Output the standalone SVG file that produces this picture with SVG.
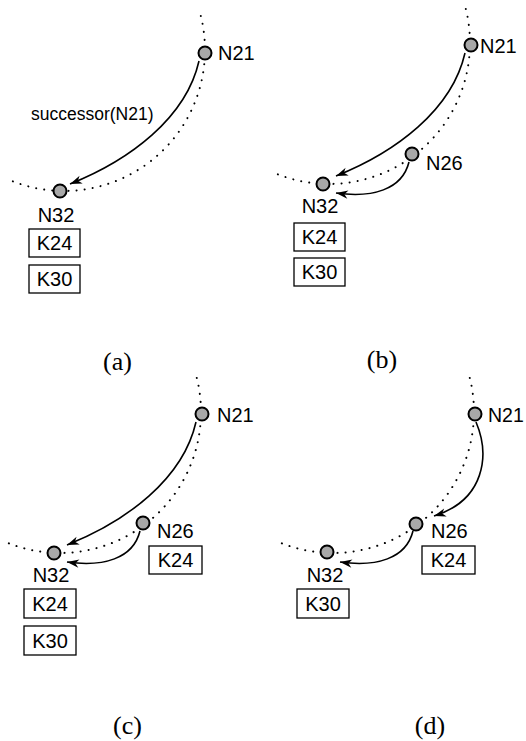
<svg xmlns="http://www.w3.org/2000/svg" xmlns:xlink="http://www.w3.org/1999/xlink" width="526" height="741" viewBox="0 0 526 741">
<style>
.ring{fill:none;stroke:#000;stroke-width:2;stroke-linecap:round;stroke-dasharray:0.1 8}
.node{fill:#a8a8a8;stroke:#000;stroke-width:2}
.lbl{font-family:"Liberation Sans",Arial,sans-serif;font-size:20px;fill:#000}
.key{fill:#fff;stroke:#000;stroke-width:1.3}
.edge{fill:none;stroke:#000;stroke-width:1.6;marker-end:url(#ah)}
.cap{font-family:"Liberation Serif","Times New Roman",serif;font-size:26px;fill:#000;text-anchor:middle}
.mid{text-anchor:middle}
</style>
<defs>
<marker id="ah" markerUnits="userSpaceOnUse" viewBox="-13 -6 15 12" refX="0" refY="0" markerWidth="15" markerHeight="12" orient="auto">
<path d="M0,0 L-12,-4.2 L-8.5,0 L-12,4.2 Z" fill="#000"/>
</marker>
<path id="arc" class="ring" d="M136.8,-34.1 A141,141 0 0 1 -52.8,130.7"/>
</defs>
<rect width="526" height="741" fill="#fff"/>

<!-- rings -->
<g id="rings">
<use xlink:href="#arc" x="64" y="50"/>
<use xlink:href="#arc" x="329" y="43"/>
<use xlink:href="#arc" x="60" y="412"/>
<use xlink:href="#arc" x="333" y="412"/>
</g>

<!-- connectors -->
<g id="connectors">
<path class="edge" d="M199,61 C186,118 130,160 70,184"/>
<text class="lbl" x="31" y="120" style="font-size:17.5px">successor(N21)</text>
<path class="edge" d="M465,53 C452,110 396,152 336,176"/>
<path class="edge" d="M409,162 C402,190 372,198 336,193"/>
<path class="edge" d="M196,422 C183,479 127,521 67,545"/>
<path class="edge" d="M140,531 C133,559 103,567 67,562"/>
<path class="edge" d="M476,422 C490,455 485,500 434,516"/>
<path class="edge" d="M413,531 C406,559 376,567 340,562"/>
</g>

<!-- panel a -->
<g id="a-N21"><circle class="node" cx="205" cy="53" r="6.5"/><text class="lbl" x="218" y="60">N21</text></g>
<g id="a-N32"><circle class="node" cx="60" cy="191" r="6.5"/><text class="lbl mid" x="56" y="222">N32</text>
<rect class="key" x="29" y="229" width="51" height="28"/><text class="lbl mid" x="54.5" y="250">K24</text>
<rect class="key" x="29" y="265" width="51" height="28"/><text class="lbl mid" x="54.5" y="286">K30</text></g>
<text class="cap" x="117.5" y="370">(a)</text>

<!-- panel b -->
<g id="b-N21"><circle class="node" cx="471" cy="45" r="6.5"/><text class="lbl" x="480" y="53">N21</text></g>
<g id="b-N26"><circle class="node" cx="412" cy="154" r="6.5"/><text class="lbl" x="426" y="170">N26</text></g>
<g id="b-N32"><circle class="node" cx="323" cy="184" r="6.5"/><text class="lbl mid" x="320" y="213">N32</text>
<rect class="key" x="294" y="223" width="51" height="28"/><text class="lbl mid" x="319.5" y="244">K24</text>
<rect class="key" x="294" y="258" width="51" height="28"/><text class="lbl mid" x="319.5" y="279">K30</text></g>
<text class="cap" x="382" y="368">(b)</text>

<!-- panel c -->
<g id="c-N21"><circle class="node" cx="202" cy="414" r="6.5"/><text class="lbl" x="217" y="422">N21</text></g>
<g id="c-N26"><circle class="node" cx="143" cy="523" r="6.5"/><text class="lbl" x="157" y="538">N26</text>
<rect class="key" x="149" y="546" width="53" height="28"/><text class="lbl mid" x="175.5" y="567">K24</text></g>
<g id="c-N32"><circle class="node" cx="54" cy="553" r="6.5"/><text class="lbl mid" x="51" y="582">N32</text>
<rect class="key" x="24" y="589" width="52" height="29"/><text class="lbl mid" x="50" y="611">K24</text>
<rect class="key" x="24" y="626" width="52" height="29"/><text class="lbl mid" x="50" y="648">K30</text></g>
<text class="cap" x="127.5" y="734">(c)</text>

<!-- panel d -->
<g id="d-N21"><circle class="node" cx="475" cy="414" r="6.5"/><text class="lbl" x="488" y="422" style="font-size:19.5px">N21</text></g>
<g id="d-N26"><circle class="node" cx="416" cy="524" r="6.5"/><text class="lbl" x="431" y="538">N26</text>
<rect class="key" x="422" y="546" width="53" height="28"/><text class="lbl mid" x="448.5" y="567">K24</text></g>
<g id="d-N32"><circle class="node" cx="327" cy="552" r="6.5"/><text class="lbl mid" x="325" y="582">N32</text>
<rect class="key" x="297" y="589" width="52" height="29"/><text class="lbl mid" x="323" y="611">K30</text></g>
<text class="cap" x="430" y="734">(d)</text>
</svg>
